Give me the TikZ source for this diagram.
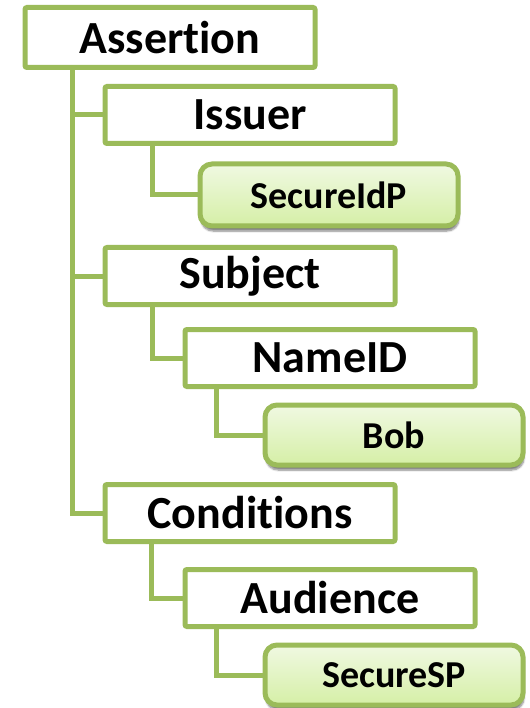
\documentclass[tikz,border=0pt]{standalone}
\usepackage{fontspec}
\setmainfont{Carlito}[Ligatures=NoCommon,Contextuals=NoAlternate]
\usetikzlibrary{shadows.blur}
\definecolor{olive}{HTML}{9BBB59}
\definecolor{leaftop}{HTML}{F0F9E2}
\definecolor{leafbottom}{HTML}{D5EFA6}
\newcommand{\nolig}{\kern0pt\relax}
\begin{document}
\begin{tikzpicture}[x=1pt,y=-1pt,
	elem/.style={draw=olive,line width=5pt,fill=white,rounded corners=2pt,
		minimum width=290pt,minimum height=57pt,inner sep=0pt,
		font=\fontsize{46}{50}\selectfont\bfseries},
	leaf/.style={draw=olive,line width=5pt,rounded corners=12pt,
		top color=leaftop,bottom color=leafbottom,
		blur shadow={shadow xshift=1pt,shadow yshift=-5pt,shadow blur steps=6,shadow opacity=50},
		minimum width=258pt,minimum height=60pt,inner sep=0pt,
		font=\fontsize{38}{42}\selectfont\bfseries},
	link/.style={draw=olive,line width=5pt}]
	
	\useasboundingbox (0,0) rectangle (529,708);
	
	% Elements
	\node[elem,minimum height=60pt] (assertion) at (170,37.5) {Assert\nolig ion};
	\node[elem] (issuer) at (250,115) {Issuer};
	\node[elem] (subject) at (250,276) {Subject};
	\node[elem] (nameid) at (330,358) {NameID};
	\node[elem] (conditions) at (250,513) {Condit\nolig ions};
	\node[elem] (audience) at (330,598) {Audience};
	
	% Lines
	\foreach \child in {issuer, subject, conditions} {
		\draw[link] ([xshift=50pt]assertion.south west) |- (\child.west);
	}
	\draw[link] ([xshift=50pt]issuer.south west) |- (329,195) coordinate (idp);
	\draw[link] ([xshift=50pt]subject.south west) |- (nameid.west);
	\draw[link] ([xshift=34pt]nameid.south west) |- (394,435) coordinate (bob);
	\draw[link] ([xshift=49pt]conditions.south west) |- (audience.west);
	\draw[link] ([xshift=34pt]audience.south west) |- (394,675) coordinate (sp);
	
	% Values
	\node[leaf,minimum height=62pt] (secureidp) at (idp) {SecureIdP};
	\node[leaf] (valbob) at (bob) {Bob};
	\node[leaf] (securesp) at (sp) {SecureSP};
\end{tikzpicture}
\end{document}
